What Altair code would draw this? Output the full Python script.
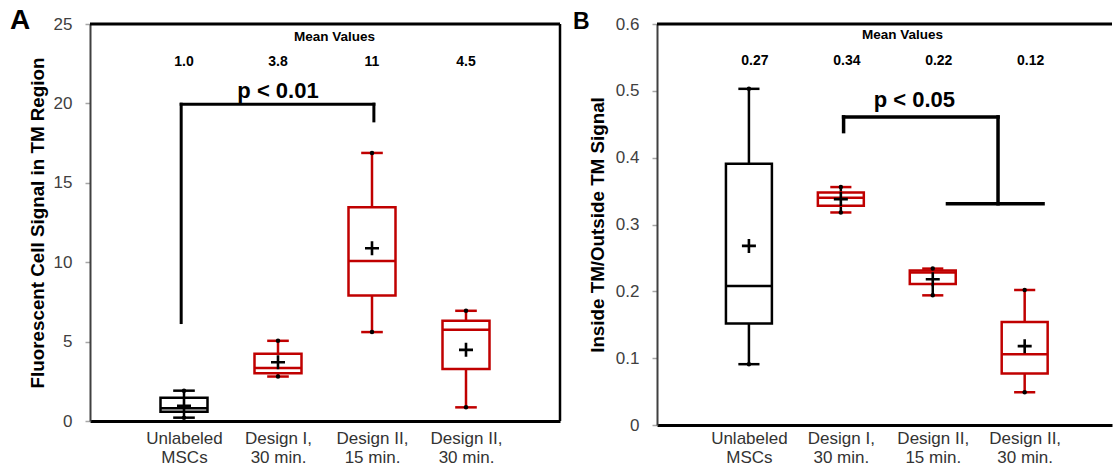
import json
import altair as alt
import pandas as pd

RED = "#C00000"
BLACK = "#000000"
FONT = "Liberation Sans"

# ---------------- data ----------------
categories = ["Unlabeled MSCs", "Design I, 30 min.", "Design II, 15 min.", "Design II, 30 min."]
cat_lines = [["Unlabeled", "MSCs"], ["Design I,", "30 min."], ["Design II,", "15 min."], ["Design II,", "30 min."]]
positions = [1, 2, 3, 4]
box_colors = [BLACK, RED, RED, RED]

# Panel A: Fluorescent cell signal in TM region
a_low = [0.21, 2.80, 5.60, 0.86]
a_q1 = [0.59, 3.00, 7.90, 3.28]
a_med = [0.80, 3.33, 10.07, 5.74]
a_q3 = [1.47, 4.23, 13.46, 6.31]
a_high = [1.91, 5.05, 16.88, 6.94]
a_mean = [0.95, 3.70, 10.88, 4.48]
a_mean_text = ["1.0", "3.8", "11", "4.5"]
a_whisker_colors = [BLACK, RED, RED, RED]

# Panel B: Inside TM / Outside TM signal
b_low = [0.091, 0.318, 0.194, 0.049]
b_q1 = [0.152, 0.328, 0.211, 0.077]
b_med = [0.208, 0.340, 0.228, 0.106]
b_q3 = [0.391, 0.348, 0.231, 0.154]
b_high = [0.503, 0.356, 0.234, 0.202]
b_mean = [0.268, 0.338, 0.218, 0.118]
b_mean_text = ["0.27", "0.34", "0.22", "0.12"]
b_whisker_colors = [BLACK, BLACK, BLACK, RED]

# significance brackets (segments in data units)
a_bracket = {"x": [0.97, 0.97, 3.02], "x2": [0.97, 3.02, 3.02],
             "y": [6.2, 19.95, 19.95], "y2": [19.95, 19.95, 18.9]}
b_bracket = {"x": [2.03, 2.03, 3.71, 3.16], "x2": [2.03, 3.71, 3.71, 4.20],
             "y": [0.439, 0.461, 0.461, 0.331], "y2": [0.461, 0.461, 0.331, 0.331]}

label_expr = " : ".join(
    f"datum.value == {p} ? {json.dumps(lines)}" for p, lines in zip(positions, cat_lines)
) + " : ''"


def panel_df(low, q1, med, q3, high, mean, mean_text, wcolors):
    df = pd.DataFrame({
        "category": categories, "pos": positions, "low": low, "q1": q1, "med": med,
        "q3": q3, "high": high, "mean": mean, "mean_text": mean_text,
        "color": box_colors, "wcolor": wcolors,
    })
    return df


def build_panel(df, cfg):
    xscale = alt.Scale(domain=[0, cfg["xmax"]], nice=False, zero=False)
    yscale = alt.Scale(domain=[0, cfg["ymax"]], nice=False, zero=False)
    xaxis = alt.Axis(values=positions, labelExpr=label_expr, ticks=False, tickSize=0,
                     domain=True, domainColor=BLACK, domainWidth=3, labelFontSize=17,
                     labelColor="#333333", labelLineHeight=19.5, labelPadding=cfg["xlabel_pad"],
                     labelFont=FONT, labelFlush=False, labelOverlap=False, grid=False, title=None)
    yaxis = alt.Axis(values=cfg["yvalues"], labelExpr=cfg["ylabel_expr"], title=cfg["ytitle"],
                     titleFontSize=18.8, titleFontWeight="bold", titleColor=BLACK, titleFont=FONT,
                     titlePadding=cfg["title_pad"], labelFontSize=17, labelColor="#404040",
                     labelFont=FONT, labelPadding=13, tickSize=5, tickColor="#a6a6a6",
                     tickWidth=1.5, domain=True, domainColor="#404040", domainWidth=2,
                     grid=False, labelFlush=False, labelOverlap=False)

    def X(f):
        return alt.X(f"{f}:Q", scale=xscale, axis=xaxis)

    def Y(f):
        return alt.Y(f"{f}:Q", scale=yscale, axis=yaxis)

    base = alt.Chart(df).transform_calculate(
        left="datum.pos - 0.25", right="datum.pos + 0.25",
        capl="datum.pos - 0.115", capr="datum.pos + 0.115")
    wcol = alt.Color("wcolor:N", scale=None)
    bcol = alt.Color("color:N", scale=None)

    lower = base.mark_rule(strokeWidth=2.5).encode(x=X("pos"), y=Y("low"), y2="q1", color=wcol)
    upper = base.mark_rule(strokeWidth=2.5).encode(x=X("pos"), y=Y("q3"), y2="high", color=wcol)
    box = base.mark_rect(fill="white", strokeWidth=2.5).encode(
        x=X("left"), x2="right", y=Y("q1"), y2="q3", stroke=alt.Stroke("color:N", scale=None))
    median = base.mark_rule(strokeWidth=2.5).encode(x=X("left"), x2="right", y=Y("med"), color=bcol)
    cap_lo = base.mark_rule(strokeWidth=2.5).encode(x=X("capl"), x2="capr", y=Y("low"), color=bcol)
    cap_hi = base.mark_rule(strokeWidth=2.5).encode(x=X("capl"), x2="capr", y=Y("high"), color=bcol)
    dots = base.transform_fold(["low", "high"], as_=["end", "val"]).mark_point(
        filled=True, shape="circle", size=20, color=BLACK, opacity=1).encode(x=X("pos"), y=Y("val"))
    cross = base.mark_point(shape="M-1,0L1,0M0,-1L0,1", filled=False, size=196, strokeWidth=2.6,
                            color=BLACK, opacity=1).encode(x=X("pos"), y=Y("mean"))
    means = base.mark_text(font=FONT, fontSize=14, fontWeight="bold", baseline="alphabetic",
                           dx=cfg["mean_dx"], color=BLACK).encode(
        x=X("pos"), y=alt.datum(cfg["means_y"]), text="mean_text:N")

    one = pd.DataFrame({"k": [0]})
    mv = alt.Chart(one).mark_text(text="Mean Values", font=FONT, fontSize=13.5, fontWeight="bold",
                                  baseline="alphabetic", color=BLACK).encode(
        x=alt.datum(cfg["mv_x"]), y=alt.datum(cfg["mv_y"]))
    bracket = alt.Chart(pd.DataFrame(cfg["bracket"])).mark_rule(
        strokeWidth=cfg["bracket_w"], strokeCap="square", color=BLACK).encode(
        x=X("x"), x2="x2", y=Y("y"), y2="y2")
    ptext = alt.Chart(one).mark_text(text=cfg["ptext"], font=FONT, fontSize=22, fontWeight="bold",
                                     baseline="alphabetic", color=BLACK).encode(
        x=alt.datum(cfg["p_x"]), y=alt.datum(cfg["p_y"]))
    letter = alt.Chart(one).mark_text(text=cfg["letter"], font=FONT, fontSize=cfg["letter_size"],
                                      fontWeight="bold", align="left", baseline="top",
                                      color=BLACK).encode(
        x=alt.value(cfg["letter_x"]), y=alt.value(cfg["letter_y"]))
    top_border = alt.Chart(one).mark_rule(strokeWidth=3, color=BLACK).encode(
        x=alt.datum(0), x2=alt.datum(cfg["xmax"]), y=alt.datum(cfg["ymax"]))

    layers = [lower, upper, box, median, cap_lo, cap_hi, dots, cross, means, mv,
              bracket, ptext, letter, top_border]
    if cfg["right_border"]:
        layers.append(alt.Chart(one).mark_rule(strokeWidth=2.5, color=BLACK).encode(
            x=alt.datum(cfg["xmax"]), y=alt.datum(0), y2=alt.datum(cfg["ymax"])))
    return alt.layer(*layers).properties(width=cfg["width"], height=cfg["height"])


df_a = panel_df(a_low, a_q1, a_med, a_q3, a_high, a_mean, a_mean_text, a_whisker_colors)
df_b = panel_df(b_low, b_q1, b_med, b_q3, b_high, b_mean, b_mean_text, b_whisker_colors)

panel_a = build_panel(df_a, {
    "xmax": 5, "ymax": 25, "yvalues": [0, 5, 10, 15, 20, 25],
    "ylabel_expr": "format(datum.value, 'd')",
    "ytitle": "Fluorescent Cell Signal in TM Region", "title_pad": 6,
    "xlabel_pad": 9, "mean_dx": 0, "means_y": 22.35, "mv_x": 2.6, "mv_y": 23.9,
    "bracket": a_bracket, "bracket_w": 3, "ptext": "p < 0.01", "p_x": 2.0, "p_y": 20.33,
    "letter": "A", "letter_size": 28, "letter_x": -80, "letter_y": -17,
    "right_border": True, "width": 470, "height": 397,
})

panel_b = build_panel(df_b, {
    "xmax": 4.95, "ymax": 0.6, "yvalues": [0, 0.1, 0.2, 0.3, 0.4, 0.5, 0.6],
    "ylabel_expr": "datum.value == 0 ? '0' : format(datum.value, '.1f')",
    "ytitle": "Inside TM/Outside TM Signal", "title_pad": 8,
    "xlabel_pad": 5, "mean_dx": 6, "means_y": 0.539, "mv_x": 2.67, "mv_y": 0.578,
    "bracket": b_bracket, "bracket_w": 3.5, "ptext": "p < 0.05", "p_x": 2.8, "p_y": 0.476,
    "letter": "B", "letter_size": 23, "letter_x": -84, "letter_y": -13,
    "right_border": False, "width": 455, "height": 401,
})

chart = alt.hconcat(panel_a, panel_b, spacing=97, bounds="flush").properties(
    padding={"left": 10, "top": 7, "right": 0, "bottom": 0}
).configure(font=FONT).configure_view(strokeWidth=0)

chart.save("out.html", embed_options={"renderer": "svg", "actions": False})
